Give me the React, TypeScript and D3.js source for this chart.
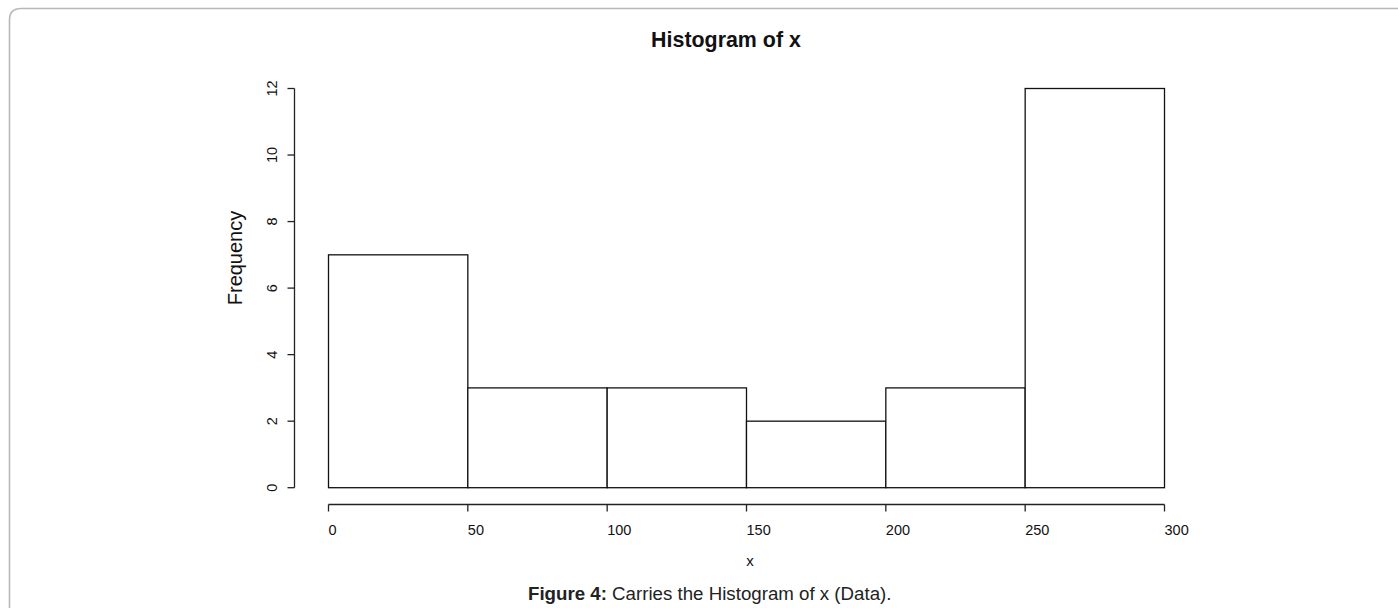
import React from "react";
import * as d3 from "d3";

const binEdges = [0, 50, 100, 150, 200, 250, 300];
const counts = [7, 3, 3, 2, 3, 12];
const xTicks = [0, 50, 100, 150, 200, 250, 300];
const yTicks = [0, 2, 4, 6, 8, 10, 12];

const W = 1398;
const H = 608;
const FONT = "Liberation Sans, Arial, Helvetica, sans-serif";

export default function App() {
  const x = d3.scaleLinear().domain([0, 300]).range([328.5, 1164.5]);
  const y = d3.scaleLinear().domain([0, 12]).range([487.7, 88.5]);
  const bins = counts.map((c, i) => ({ x0: binEdges[i], x1: binEdges[i + 1], c }));
  const axisY = 504.5;
  const axisX = 294.5;

  return (
    <svg
      width={W}
      height={H}
      style={{ position: "absolute", left: 0, top: 0, background: "#fff" }}
      fontFamily={FONT}
    >
      <rect x={0} y={0} width={W} height={H} fill="#fff" />
      {/* frame */}
      <path
        d={`M9.5,${H} L9.5,20 Q9.5,8.5 21,8.5 L${W},8.5`}
        fill="none"
        stroke="#b8b8b8"
        strokeWidth={1.6}
      />
      {/* title */}
      <text x={726} y={47} textAnchor="middle" fontSize={21.4} fontWeight="bold" fill="#111">
        Histogram of x
      </text>
      {/* bars */}
      {bins.map((b, i) => (
        <rect
          key={i}
          x={x(b.x0)}
          y={y(b.c)}
          width={x(b.x1) - x(b.x0)}
          height={y(0) - y(b.c)}
          fill="#fff"
          stroke="#111"
          strokeWidth={1.3}
        />
      ))}
      {/* x axis */}
      <line x1={x(0)} x2={x(300)} y1={axisY} y2={axisY} stroke="#222" strokeWidth={1.3} />
      {xTicks.map((t) => (
        <g key={t}>
          <line x1={x(t)} x2={x(t)} y1={axisY} y2={axisY + 7} stroke="#222" strokeWidth={1.3} />
          <text x={x(t)} y={535} textAnchor="start" fontSize={14.5} fill="#111">
            {t}
          </text>
        </g>
      ))}
      {/* y axis */}
      <line x1={axisX} x2={axisX} y1={y(0)} y2={y(12)} stroke="#222" strokeWidth={1.3} />
      {yTicks.map((t) => (
        <g key={t}>
          <line x1={axisX} x2={axisX - 7} y1={y(t)} y2={y(t)} stroke="#222" strokeWidth={1.3} />
          <text
            transform={`translate(277,${y(t)}) rotate(-90)`}
            textAnchor="middle"
            fontSize={14.5}
            fill="#111"
          >
            {t}
          </text>
        </g>
      ))}
      {/* axis titles */}
      <text transform="translate(242,258) rotate(-90)" textAnchor="middle" fontSize={20} fill="#111">
        Frequency
      </text>
      <text x={750} y={566} textAnchor="middle" fontSize={15} fill="#111">
        x
      </text>
      {/* caption */}
      <text x={528} y={600} fontSize={18.7} fill="#222">
        <tspan fontWeight="bold">Figure 4:</tspan>
        <tspan> Carries the Histogram of x (Data).</tspan>
      </text>
    </svg>
  );
}
